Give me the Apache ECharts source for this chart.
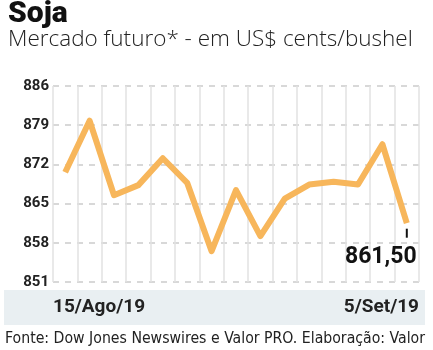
<!DOCTYPE html>
<html><head><meta charset="utf-8">
<script src="https://cdn.jsdelivr.net/npm/echarts@6/dist/echarts.min.js"></script>
<style>html,body{margin:0;padding:0;background:#fff}#c{width:433px;height:350px}</style>
</head><body><div id="c"></div>
<script>
const categories = ['15/Ago/19','16/Ago/19','19/Ago/19','20/Ago/19','21/Ago/19','22/Ago/19','23/Ago/19','26/Ago/19','27/Ago/19','28/Ago/19','29/Ago/19','30/Ago/19','3/Set/19','4/Set/19','5/Set/19'];
const values = [870.6, 879.8, 866.5, 868.3, 873.1, 868.7, 856.5, 867.4, 859.2, 865.9, 868.4, 868.9, 868.4, 875.6, 861.5];
const lastLabel = '861,50';
const yTicks = {min: 851, max: 886, step: 7};

const chart = echarts.init(document.getElementById('c'), null, {renderer: 'canvas'});
const last = values.length - 1;
chart.setOption({
  animation: false,
  title: {
    text: 'Soja', left: 3, top: -6,
    textStyle: {fontFamily: 'Roboto', fontWeight: 900, fontSize: 30, color: '#111'},
    subtext: 'Mercado futuro* - em US$ cents/bushel',
    subtextStyle: {fontFamily: 'Open Sans', fontWeight: 300, fontSize: 22.5, color: '#222'},
    itemGap: -1
  },
  graphic: [
    {type: 'rect', left: 4, top: 290, shape: {width: 421, height: 35}, style: {fill: '#e9eff2'}, z: -1},
    {type: 'text', left: 5, top: 331, style: {text: 'Fonte: Dow Jones Newswires e Valor PRO. Elaboração: Valor', font: '15.7px "DejaVu Sans Condensed"', fill: '#222'}}
  ],
  grid: {left: 53, right: 14, top: 86, bottom: 68},
  xAxis: [{
    type: 'category', data: categories, boundaryGap: true,
    axisLine: {show: false}, axisTick: {show: false}, axisLabel: {show: false},
    splitLine: {show: true, interval: 0, lineStyle: {color: '#e2e2e2', width: 1.5}}
  }, {
    type: 'category', data: categories, boundaryGap: false, position: 'bottom',
    axisLine: {show: false}, axisTick: {show: false}, splitLine: {show: false},
    axisLabel: {
      margin: 16,
      interval: (i) => i === 0 || i === last,
      alignMinLabel: 'left', alignMaxLabel: 'right',
      fontFamily: 'Roboto', fontWeight: 'bold', fontSize: 19, color: '#222'
    }
  }],
  yAxis: {
    type: 'value', min: yTicks.min, max: yTicks.max, interval: yTicks.step,
    axisLine: {show: false}, axisTick: {show: false},
    axisLabel: {margin: 4, fontFamily: 'Roboto', fontWeight: 'bold', fontSize: 15, color: '#222'},
    splitLine: {show: true, lineStyle: {color: '#cccccc', width: 1.5, type: [6, 6]}}
  },
  series: [{
    type: 'line', data: values, xAxisIndex: 0,
    symbol: 'none', lineStyle: {color: '#f7b65b', width: 6, join: 'round'},
    markPoint: {
      symbol: 'rect', symbolSize: [2, 9], symbolOffset: [0, 10],
      itemStyle: {color: '#111'},
      label: {show: true, position: 'inside', offset: [-26, 24], formatter: lastLabel,
        fontFamily: 'Roboto', fontWeight: 'bold', fontSize: 23, color: '#111'},
      data: [{coord: [last, values[last]]}]
    }
  }]
});
</script></body></html>
